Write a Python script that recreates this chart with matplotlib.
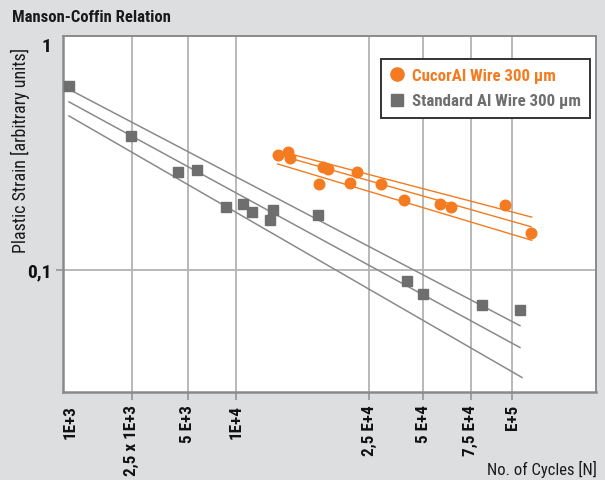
import numpy as np
import matplotlib
matplotlib.use("Agg")
import matplotlib.pyplot as plt
from matplotlib.ticker import FixedLocator, FixedFormatter, NullLocator

# ---------------- data ----------------
std_cycles = [985, 2480, 4450, 5760, 8730, 10540, 11210, 12690, 12950, 17640,
              40460, 50000, 81310, 105700]
std_strain = [0.650, 0.390, 0.271, 0.277, 0.189, 0.195, 0.180, 0.166, 0.184, 0.175,
              0.089, 0.078, 0.070, 0.066]

cuc_cycles = [13370, 14330, 14560, 17760, 18260, 18900, 21990, 22980, 29140, 38950,
              57540, 63370, 95430, 114200]
cuc_strain = [0.322, 0.332, 0.314, 0.240, 0.286, 0.278, 0.243, 0.272, 0.240, 0.203,
              0.196, 0.190, 0.193, 0.146]

# fit lines (start / end) : upper bound, fit, lower bound
std_fit_cycles = [[985, 105700], [985, 105700], [985, 107200]]
std_fit_strain = [[0.630, 0.0565], [0.554, 0.0452], [0.480, 0.0333]]

cuc_fit_cycles = [[14530, 114700], [14630, 114200], [13350, 114700]]
cuc_fit_strain = [[0.326, 0.171], [0.311, 0.155], [0.294, 0.135]]

x_ticks = [1000, 2500, 5000, 10000, 25000, 50000, 75000, 100000]
x_tick_labels = ["1E+3", "2,5 x 1E+3", "5 E+3", "1E+4", "2,5 E+4", "5 E+4", "7,5 E+4", "E+5"]
y_ticks = [0.1, 1]
y_tick_labels = ["0,1", "1"]

series_labels = ["CucorAl Wire 300 µm", "Standard Al Wire 300 µm"]

# ---------------- style ----------------
ORANGE = "#f47b20"
GREY_MARK = "#6e6e6e"
GREY_LINE = "#8a8a8a"
BG = "#dddee0"
FONT = ["Roboto Condensed", "DejaVu Sans"]
plt.rcParams["font.family"] = FONT
plt.rcParams["font.stretch"] = "condensed"

# piecewise-log x axis as drawn in the original chart
knot_vals = np.log10([897, 1000, 2500, 5000, 1e4, 2.5e4, 5e4, 7.5e4, 1e5, 1.799e5])
knot_pos = np.array([62.7, 70, 131.7, 187.7, 235.7, 369, 423.3, 470.7, 512, 596.3])


def fwd(x):
    x = np.asarray(x, dtype=float)
    return np.interp(np.log10(np.maximum(x, 1e-9)), knot_vals, knot_pos)


def inv(p):
    p = np.asarray(p, dtype=float)
    return 10 ** np.interp(p, knot_pos, knot_vals)


fig = plt.figure(figsize=(6.05, 4.81), dpi=100, facecolor=BG)
ax = fig.add_axes([62.7 / 605, 1 - 392.7 / 481, 533.6 / 605, 355.7 / 481])
ax.set_facecolor("white")

ax.set_xscale("function", functions=(fwd, inv))
ax.set_yscale("log")

# fit lines
for xs, ys in zip(std_fit_cycles, std_fit_strain):
    ax.plot(xs, ys, color=GREY_LINE, lw=1.1, zorder=3)
for xs, ys in zip(cuc_fit_cycles, cuc_fit_strain):
    ax.plot(xs, ys, color=ORANGE, lw=1.0, zorder=3)

# points
h_cuc, = ax.plot(cuc_cycles, cuc_strain, ls="none", marker="o", ms=7.6,
                 color=ORANGE, mec=ORANGE, zorder=4, label=series_labels[0])
h_std, = ax.plot(std_cycles, std_strain, ls="none", marker="s", ms=7.0,
                 color=GREY_MARK, mec=GREY_MARK, zorder=4, label=series_labels[1])

ax.set_xlim(897, 1.799e5)
ax.set_ylim(0.0288, 1.085)

ax.xaxis.set_major_locator(FixedLocator(x_ticks))
ax.xaxis.set_major_formatter(FixedFormatter(x_tick_labels))
ax.xaxis.set_minor_locator(NullLocator())
ax.yaxis.set_major_locator(FixedLocator(y_ticks))
ax.yaxis.set_major_formatter(FixedFormatter(y_tick_labels))
ax.yaxis.set_minor_locator(NullLocator())

ax.grid(True, which="major", color="#b3b3b3", lw=1.3, zorder=1)
ax.set_axisbelow(True)

ax.tick_params(axis="x", direction="out", length=6, width=1.3, color="#9a9a9a",
               pad=3, labelrotation=90, labelsize=12.3)
ax.tick_params(axis="y", direction="out", length=5, width=1.3, color="#9a9a9a",
               pad=3, labelsize=14)
for lab in ax.get_xticklabels() + ax.get_yticklabels():
    lab.set_fontweight("bold")
    lab.set_color("#111111")

xt = ax.xaxis.get_major_ticks()
xt[0].gridline.set_visible(False)
xt[0].tick1line.set_visible(False)
yt = ax.yaxis.get_major_ticks()
yt[1].gridline.set_visible(False)
yt[1].tick1line.set_visible(False)

for side, sp in ax.spines.items():
    sp.set_color("#8a8a8a")
    sp.set_linewidth(1.8 if side in ("left", "bottom") else 1.4)

# texts
fig.text(12 / 605, 1 - 17 / 481, "Manson-Coffin Relation", fontsize=12,
         fontweight="bold", color="#1a1a1a", ha="left", va="center")
fig.text(20 / 605, 1 - 150 / 481, "Plastic Strain [arbitrary units]", fontsize=13,
         color="#1a1a1a", rotation=90, ha="center", va="center")
fig.text(597 / 605, 1 - 469 / 481, "No. of Cycles [N]", fontsize=12,
         color="#1a1a1a", ha="right", va="center")

leg = ax.legend(handles=[h_cuc, h_std], loc="upper left",
                bbox_to_anchor=(381 / 605, 1 - 60 / 481), bbox_transform=fig.transFigure,
                borderaxespad=0, frameon=True, fancybox=False, framealpha=1,
                edgecolor="#333333", prop={"weight": "bold", "size": 12.2},
                handlelength=0.8, handletextpad=0.45, borderpad=0.55, labelspacing=0.6,
                labelcolor=[ORANGE, GREY_MARK], markerscale=1.25)
leg.get_frame().set_linewidth(1.4)

fig.savefig("out.png", dpi=100, facecolor=BG)
